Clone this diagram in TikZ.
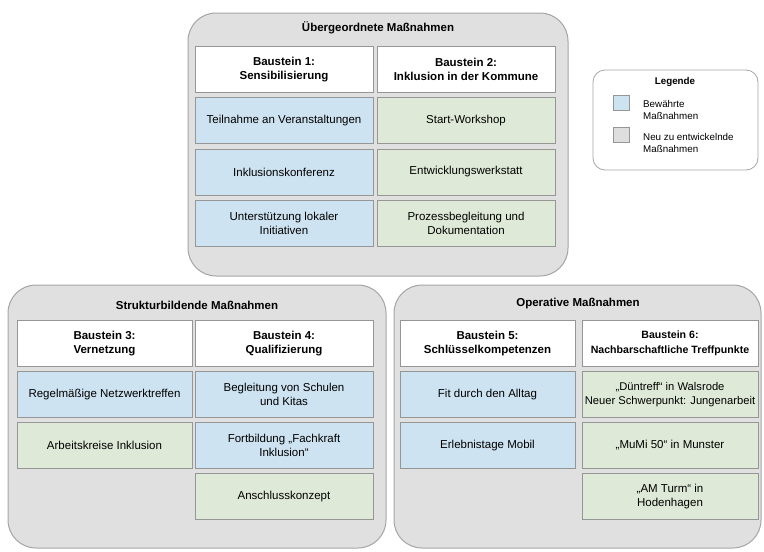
\documentclass[tikz,border=0pt]{standalone}
\usepackage{fontspec}
\setmainfont{Liberation Sans}
\definecolor{contfill}{RGB}{224,224,224}
\definecolor{contdraw}{RGB}{165,165,165}
\definecolor{bluecell}{RGB}{206,227,241}
\definecolor{greencell}{RGB}{222,233,215}
\definecolor{celldraw}{RGB}{150,150,150}
\definecolor{legsq}{RGB}{222,222,222}
\tikzset{
  container/.style={draw=contdraw, fill=contfill, line width=1pt, rounded corners=28pt},
  cellbase/.style={draw=celldraw, line width=0.6pt, align=center, inner sep=0.5pt,
    font=\fontsize{11.5}{14.5}\selectfont, minimum height=46pt},
  headcell/.style={cellbase, fill=white, font=\fontsize{11.5}{14.5}\selectfont\bfseries},
  bluebox/.style={cellbase, fill=bluecell},
  greenbox/.style={cellbase, fill=greencell},
  titletext/.style={font=\fontsize{11.5}{14}\selectfont\bfseries, inner sep=0pt},
  legtext/.style={font=\fontsize{9.8}{12.5}\selectfont, align=left, anchor=west, inner sep=0pt},
}
\begin{document}
\begin{tikzpicture}[x=1pt,y=-1pt]
\useasboundingbox (0,0) rectangle (764,552);
% containers
\draw[container] (188,13) rectangle (568,276);
\draw[container] (8,285) rectangle (386,548);
\draw[container] (394,285) rectangle (761,548);
% titles
\node[titletext] (t1) at (378,28) {Übergeordnete Maßnahmen};
\node[titletext] (t2) at (197,305) {Strukturbildende Maßnahmen};
\node[titletext] (t3) at (578,304) {Operative Maßnahmen};
% top block
\node[headcell, minimum width=178pt] (h1) at (284,69.5) {Baustein 1:\\Sensibilisierung};
\node[headcell, minimum width=178pt] (h2) at (466,69.5) {Baustein 2:\\Inklusion in der Kommune};
\node[bluebox, minimum width=178pt] (b11) at (284,120.5) {Teilnahme an Veranstaltungen};
\node[bluebox, minimum width=178pt] (b12) at (284,172) {Inklusionskonferenz};
\node[bluebox, minimum width=178pt] (b13) at (284,223.5) {Unterstützung lokaler\\Initiativen};
\node[greenbox, minimum width=178pt] (b21) at (466,120.5) {Start-Workshop};
\node[greenbox, minimum width=178pt] (b22) at (466,172) {Entwicklungswerkstatt};
\node[greenbox, minimum width=178pt] (b23) at (466,223.5) {Prozessbegleitung und\\Dokumentation};
% bottom left block
\node[headcell, minimum width=175pt] (h3) at (104.5,343.5) {Baustein 3:\\Vernetzung};
\node[headcell, minimum width=178pt] (h4) at (284,343.5) {Baustein 4:\\Qualifizierung};
\node[bluebox, minimum width=175pt] (b31) at (104.5,394.5) {Regelmäßige Netzwerktreffen};
\node[greenbox, minimum width=175pt] (b32) at (104.5,445.5) {Arbeitskreise Inklusion};
\node[bluebox, minimum width=178pt] (b41) at (284,394.5) {Begleitung von Schulen\\und Kitas};
\node[bluebox, minimum width=178pt] (b42) at (284,445.5) {Fortbildung „Fachkraft\\Inklusion“};
\node[greenbox, minimum width=178pt] (b43) at (284,496.5) {Anschlusskonzept};
% bottom right block
\node[headcell, minimum width=175pt] (h5) at (487.5,343.5) {Baustein 5:\\Schlüsselkompetenzen};
\node[headcell, minimum width=176pt, font=\fontsize{10.6}{14.5}\selectfont\bfseries] (h6) at (670,343.5) {Baustein 6:\\Nachbarschaftliche Treffpunkte};
\node[bluebox, minimum width=175pt] (b51) at (487.5,394.5) {Fit durch den Alltag};
\node[bluebox, minimum width=175pt] (b52) at (487.5,445.5) {Erlebnistage Mobil};
\node[greenbox, minimum width=176pt, font=\fontsize{11.2}{14.5}\selectfont] (b61) at (670,394.5) {„Düntreff“ in Walsrode\\Neuer Schwerpunkt: Jungenarbeit};
\node[greenbox, minimum width=176pt] (b62) at (670,445.5) {„MuMi 50“ in Munster};
\node[greenbox, minimum width=176pt] (b63) at (670,496.5) {„AM Turm“ in\\Hodenhagen};
% legend
\draw[draw=contdraw, fill=white, line width=0.8pt, rounded corners=12pt] (593,70) rectangle (758,170);
\node[font=\fontsize{9.8}{12}\selectfont\bfseries] (lt) at (675,82) {Legende};
\node[draw=celldraw, fill=bluecell, line width=0.5pt, minimum width=16pt, minimum height=15pt, inner sep=0pt] (lb) at (621.5,102.5) {};
\node[legtext] (lbt) at (643,110) {Bewährte\\Maßnahmen};
\node[draw=celldraw, fill=legsq, line width=0.5pt, minimum width=16pt, minimum height=15pt, inner sep=0pt] (lg) at (621.5,135) {};
\node[legtext] (lgt) at (643,143) {Neu zu entwickelnde\\Maßnahmen};
\end{tikzpicture}
\end{document}
